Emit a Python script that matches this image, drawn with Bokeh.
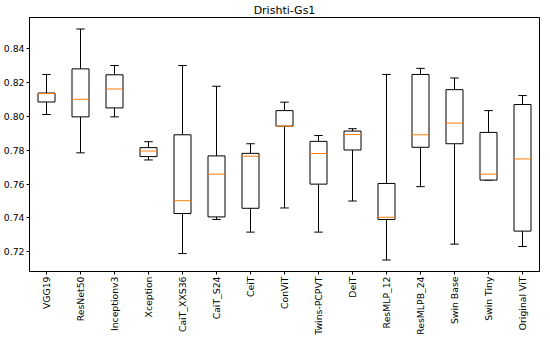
import math
from bokeh.plotting import figure
from bokeh.models import Range1d, FixedTicker, PrintfTickFormatter
from bokeh.embed import file_html
from bokeh.resources import INLINE

models = ["VGG19", "ResNet50", "Inceptionv3", "Xception", "CaiT_XXS36", "CaiT_S24",
          "CeiT", "ConViT", "Twins-PCPVT", "DeiT", "ResMLP_12", "ResMLPB_24",
          "Swin Base", "Swin Tiny", "Original ViT"]
low = [0.8012, 0.7785, 0.7998, 0.7743, 0.7189, 0.7391, 0.7316, 0.7459, 0.7316, 0.7500,
       0.7151, 0.7585, 0.7245, 0.7624, 0.7231]
q1 = [0.8086, 0.7998, 0.8051, 0.7763, 0.7426, 0.7406, 0.7457, 0.7943, 0.7600, 0.7802,
      0.7391, 0.7818, 0.7839, 0.7624, 0.7322]
med = [0.8136, 0.8102, 0.8163, 0.7796, 0.7502, 0.7659, 0.7765, 0.7943, 0.7781, 0.7894,
       0.7404, 0.7892, 0.7961, 0.7659, 0.7749]
q3 = [0.8139, 0.8282, 0.8247, 0.7816, 0.7892, 0.7767, 0.7782, 0.8035, 0.7853, 0.7914,
      0.7604, 0.8249, 0.8159, 0.7906, 0.8071]
high = [0.8249, 0.8518, 0.8302, 0.7851, 0.8302, 0.8179, 0.7839, 0.8085, 0.7888, 0.7928,
        0.8249, 0.8285, 0.8228, 0.8035, 0.8124]
y_ticks = [0.72, 0.74, 0.76, 0.78, 0.80, 0.82, 0.84]

xs = list(range(1, len(models) + 1))

p = figure(output_backend="svg", toolbar_location=None,
           frame_width=510, frame_height=254,
           x_range=Range1d(0.5, 15.5), y_range=Range1d(0.7083, 0.8586),
           title="Drishti-Gs1", min_border_top=0, min_border_right=2,
           min_border_left=10, min_border_bottom=0)
p.title.align = "center"
p.title.text_font = "DejaVu Sans"
p.title.text_font_size = "11px"
p.title.text_font_style = "normal"
p.title.text_color = "black"
p.title.standoff = 2

p.xgrid.visible = False
p.ygrid.visible = False
p.outline_line_color = "black"
p.outline_line_width = 1
p.background_fill_color = "white"
p.border_fill_color = "white"

# whiskers
p.segment(x0=xs, y0=q3, x1=xs, y1=high, line_color="black", line_width=1)
p.segment(x0=xs, y0=q1, x1=xs, y1=low, line_color="black", line_width=1)
# caps
p.segment(x0=[x - 0.125 for x in xs], y0=high, x1=[x + 0.125 for x in xs], y1=high,
          line_color="black", line_width=1)
p.segment(x0=[x - 0.125 for x in xs], y0=low, x1=[x + 0.125 for x in xs], y1=low,
          line_color="black", line_width=1)
# boxes
p.quad(left=[x - 0.25 for x in xs], right=[x + 0.25 for x in xs], bottom=q1, top=q3,
       fill_color="white", line_color="black", line_width=1)
# medians
p.segment(x0=[x - 0.25 for x in xs], y0=med, x1=[x + 0.25 for x in xs], y1=med,
          line_color="#ff7f0e", line_width=1)

for ax in (p.xaxis[0], p.yaxis[0]):
    ax.axis_line_color = "black"
    ax.major_tick_line_color = "black"
    ax.major_tick_out = 3
    ax.major_tick_in = 0
    ax.minor_tick_line_color = None
    ax.major_label_text_font = "DejaVu Sans"
    ax.major_label_text_font_size = "9.3px"
    ax.major_label_text_color = "black"
    ax.major_label_standoff = 2

p.xaxis.ticker = FixedTicker(ticks=xs)
p.xaxis.major_label_overrides = {x: m for x, m in zip(xs, models)}
p.xaxis.major_label_orientation = math.pi / 2
p.yaxis.ticker = FixedTicker(ticks=y_ticks)
p.yaxis.formatter = PrintfTickFormatter(format="%.2f")

open("out.html", "w").write(file_html(p, INLINE))
